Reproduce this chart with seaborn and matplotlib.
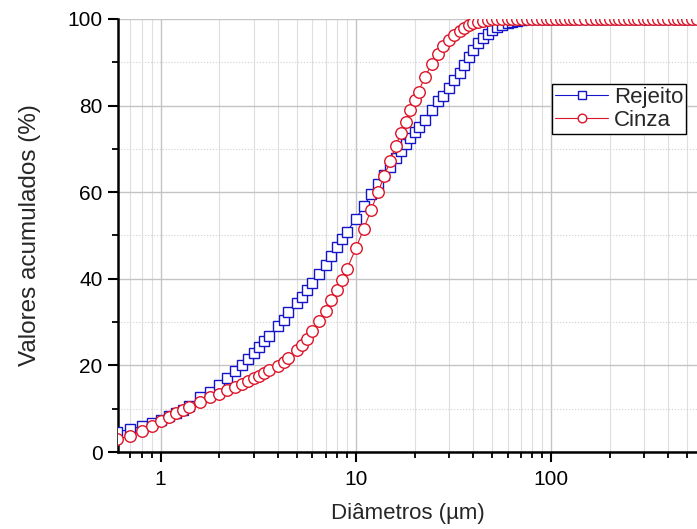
import matplotlib
matplotlib.use("Agg")
import matplotlib.pyplot as plt
import matplotlib.ticker as mticker
import seaborn as sns
import pandas as pd

# diametros (um), mesmas classes para as duas amostras
diametros = [0.6, 0.7, 0.8, 0.9, 1.0, 1.1, 1.2, 1.3, 1.4, 1.6, 1.8, 2.0, 2.2, 2.4,
             2.6, 2.8, 3.0, 3.2, 3.4, 3.6, 4.0, 4.3, 4.5, 5.0, 5.3, 5.6, 6.0, 6.5,
             7.0, 7.5, 8.0, 8.5, 9.0, 10, 11, 12, 13, 14, 15, 16, 17, 18, 19, 20,
             21, 22.5, 24.5, 26.5, 28, 30, 32, 34, 36, 38, 40, 42.5, 45, 47.5, 50,
             53, 56, 60, 63, 67, 71, 75, 80, 85, 90, 95, 100, 106, 112, 118, 125,
             132, 140, 150, 160, 170, 180, 190, 200, 212, 224, 236, 250, 265, 280,
             300, 315, 335, 355, 375, 400, 425, 450, 475, 500, 530, 560]

rejeito = [4.7, 5.2, 6.0, 6.8, 7.5, 8.4, 9.1, 9.8, 10.6, 12.6, 13.9, 15.5, 17.2, 18.6,
           20.0, 21.5, 22.9, 24.2, 25.6, 26.8, 29.1, 30.6, 32.4, 34.3, 35.8, 37.3, 39.0, 41.2,
           43.3, 45.3, 47.4, 49.2, 50.8, 53.9, 56.8, 59.5, 61.8, 63.9, 65.9, 68.0, 69.6, 71.2, 72.6, 73.9,
           75.0, 76.6, 79.0, 81.0, 82.3, 84.0, 85.8, 87.6, 89.3, 91.2, 92.8, 94.4, 95.5, 96.6, 97.5,
           98.2, 98.6, 99.0, 99.3, 99.6, 99.8, 100, 100, 100, 100, 100, 100, 100, 100, 100, 100,
           100, 100, 100, 100, 100, 100, 100, 100, 100, 100, 100, 100, 100, 100,
           100, 100, 100, 100, 100, 100, 100, 100, 100, 100, 100, 100]

cinza = [2.9, 3.8, 4.9, 6.0, 7.2, 8.0, 8.9, 9.7, 10.5, 11.6, 12.6, 13.5, 14.4, 15.1,
         15.8, 16.4, 17.0, 17.6, 18.3, 18.9, 19.8, 20.8, 21.8, 23.6, 24.8, 26.2, 27.9, 30.2,
         32.6, 35.0, 37.4, 39.8, 42.2, 47.0, 51.6, 56.0, 60.0, 63.8, 67.2, 70.6, 73.6, 76.3, 78.9, 81.2,
         83.2, 86.5, 89.5, 92.0, 93.8, 95.2, 96.3, 97.2, 97.9, 98.5, 99.0, 99.3, 99.6, 99.8, 100,
         100, 100, 100, 100, 100, 100, 100, 100, 100, 100, 100, 100, 100, 100, 100, 100,
         100, 100, 100, 100, 100, 100, 100, 100, 100, 100, 100, 100, 100, 100,
         100, 100, 100, 100, 100, 100, 100, 100, 100, 100, 100, 100]

df = pd.DataFrame({"d": diametros, "Rejeito": rejeito, "Cinza": cinza})

sns.set_style("white")
plt.rcParams["font.family"] = ["Liberation Sans", "DejaVu Sans"]

fig = plt.figure(figsize=(6.97, 5.29), dpi=100)
ax = fig.add_axes([118 / 697, 77 / 529, 579 / 697, 433 / 529])

azul = "#1414c8"
vermelho = "#dc1428"
sns.lineplot(data=df, x="d", y="Rejeito", ax=ax, color=azul, marker="s",
             markersize=7.3, markerfacecolor="white", markeredgecolor=azul,
             markeredgewidth=1.0, linewidth=0.8, label="Rejeito", zorder=3)
sns.lineplot(data=df, x="d", y="Cinza", ax=ax, color=vermelho, marker="o",
             markersize=8.3, markerfacecolor="white", markeredgecolor=vermelho,
             markeredgewidth=1.0, linewidth=0.8, label="Cinza", zorder=4)

ax.set_xscale("log")
ax.set_xlim(0.605, 560)
ax.set_ylim(0, 100)

ax.xaxis.set_major_locator(mticker.FixedLocator([1, 10, 100]))
ax.xaxis.set_major_formatter(mticker.FixedFormatter(["1", "10", "100"]))
ax.xaxis.set_minor_locator(mticker.LogLocator(base=10, subs=range(2, 10), numticks=20))
ax.xaxis.set_minor_formatter(mticker.NullFormatter())
ax.yaxis.set_major_locator(mticker.MultipleLocator(20))
ax.yaxis.set_minor_locator(mticker.MultipleLocator(10))

ax.grid(True, which="major", color="#c4c4c4", linewidth=1.0)
ax.grid(True, which="minor", axis="x", color="#dedede", linewidth=0.8)
ax.grid(True, which="minor", axis="y", color="#d0d0d0", linewidth=0.8, linestyle=":")
ax.set_axisbelow(True)

for lado in ["top", "right"]:
    ax.spines[lado].set_visible(False)
for lado in ["left", "bottom"]:
    ax.spines[lado].set_linewidth(1.8)
    ax.spines[lado].set_color("black")

ax.tick_params(which="major", direction="out", length=7, width=1.5,
               labelsize=15, pad=4, colors="black", left=True, bottom=True)
ax.tick_params(axis="x", which="major", pad=6)
ax.tick_params(which="minor", direction="out", length=4, width=1.3,
               left=True, bottom=True, colors="black")

ax.set_xlabel("Diâmetros (µm)", fontsize=16, labelpad=10)
ax.set_ylabel("Valores acumulados (%)", fontsize=17.5, labelpad=19)

leg = ax.legend(loc="upper right", bbox_to_anchor=(0.981, 0.85), fontsize=16,
                frameon=True, fancybox=False, shadow=False, borderpad=0.12,
                labelspacing=0.1, handlelength=2.4, handletextpad=0.25,
                borderaxespad=0.0, markerscale=0.75)
leg.get_frame().set_edgecolor("black")
leg.get_frame().set_linewidth(1.0)
leg.get_frame().set_alpha(1.0)

fig.savefig("out.png", dpi=100)
